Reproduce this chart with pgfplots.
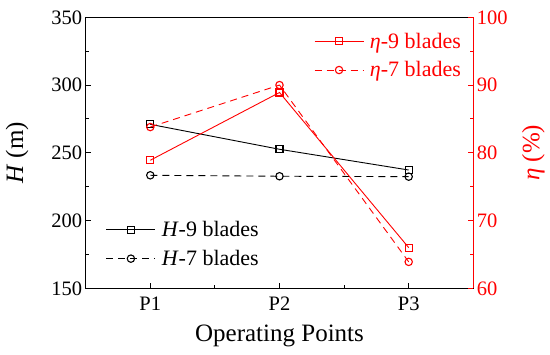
\documentclass[border=0pt]{standalone}
\usepackage{fontspec}
\setmainfont{Liberation Serif}
\usepackage{pgfplots}
\pgfplotsset{compat=1.18}
\begin{document}
\begin{tikzpicture}
\pgfplotsset{
  common/.style={
    width=387.6pt, height=271pt, scale only axis,
    xmin=-0.5, xmax=2.5,
    xtick={0,1,2}, xticklabels={P1,P2,P3},
    minor x tick num=1,
    tick align=inside,
    major tick length=5pt, minor tick length=3.3pt,
    axis line style={line width=1.2pt},
    every tick/.style={line width=1pt},
    /pgf/number format/assume math mode=true,
    ticklabel style={font=\fontsize{20.5}{22}\selectfont},
    xticklabel style={yshift=-5pt},
    label style={font=\fontsize{25}{27}\selectfont},
    legend cell align=left,
    legend style={draw=none, fill=none, font=\fontsize{22}{24}\selectfont, row sep=8pt,
      /tikz/every odd column/.append style={column sep=4pt}},
    legend image code/.code={\draw[mark repeat=2,mark phase=2,##1] plot coordinates {(0pt,0pt) (24.5pt,0pt) (49pt,0pt)};},
  },
}
\begin{axis}[common,
  ymin=150, ymax=350, ytick={150,200,...,350}, minor y tick num=1,
  xtick pos=bottom, ytick pos=left,
  xlabel={Operating Points},
  xlabel style={at={(axis description cs:0.5,0)}, anchor=base, yshift=-53.4pt},
  ylabel={\textit{H} (m)},
  ylabel style={at={(axis description cs:-0.177,0.5)}, anchor=center},
  legend style={at={(0.044,0.262)}, anchor=north west},
]
\addplot[black, line width=0.9pt, mark=square, mark size=3.5pt, mark options={solid, line width=1.1pt}] coordinates {(0,271.0) (1,252.6) (2,237.3)};
\addlegendentry{\textit{H}-9 blades}
\addplot[black, line width=0.9pt, dash pattern=on 7pt off 5pt, mark=o, mark size=3.7pt, mark options={solid, line width=1.1pt}] coordinates {(0,233.4) (1,232.7) (2,232.4)};
\addlegendentry{\textit{H}-7 blades}
\end{axis}
\begin{axis}[common,
  axis x line=none, axis y line*=right,
  ymin=60, ymax=100, ytick={60,70,...,100}, minor y tick num=1,
  y axis line style={red, line width=1.2pt}, ytick style={red}, yticklabel style={red},
  ylabel={\textit{η} (\%)},
  ylabel style={red, at={(axis description cs:1.155,0.5)}, anchor=center},
  legend style={at={(0.581,0.958)}, anchor=north west, text=red},
]
\coordinate (A) at (rel axis cs:0,0);
\coordinate (B) at (rel axis cs:1,1);
\addplot[red, line width=0.9pt, mark=square, mark size=3.5pt, mark options={solid, line width=1.1pt}] coordinates {(0,78.9) (1,88.9) (2,66.0)};
\addlegendentry{\textit{η}-9 blades}
\addplot[red, line width=0.9pt, dash pattern=on 7pt off 5pt, mark=o, mark size=3.7pt, mark options={solid, line width=1.1pt}] coordinates {(0,83.8) (1,90.0) (2,63.9)};
\addlegendentry{\textit{η}-7 blades}
\end{axis}
\pgfresetboundingbox
\path[use as bounding box] ([shift={(-85.7pt,-66.7pt)}]A) rectangle ([shift={(76.7pt,17.3pt)}]B);
\end{tikzpicture}
\end{document}
